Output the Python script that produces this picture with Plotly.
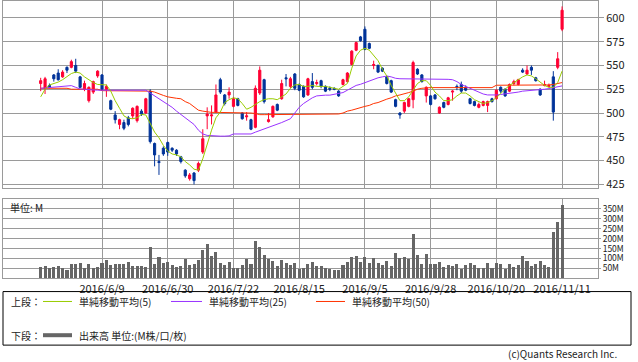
import plotly.graph_objects as go

# ---------------- data ----------------
opens = [531, 526, 529, 540, 542, 538, 548, 548, 550, 538,
         525, 513, 522, 539, 540, 525, 513, 498, 488, 490,
         495, 497, 492, 502, 500, 523, 468, 449, 463, 469,
         463, 461, 454, 440, 431, 437, 440, 459, 497, 497,
         501, 535, 519, 519, 507, 515, 500, 496, 493, 485,
         521, 535, 491, 496, 509, 515, 537, 528, 541, 530,
         528, 519, 533, 531, 534, 528, 526, 526, 523, 530,
         533, 551, 566, 580, 588, 573, 550, 550, 547, 538,
         534, 514, 500, 502, 507, 514, 546, 540, 518, 518,
         519, 500, 511, 509, 522, 528, 530, 527, 515, 512,
         506, 508, 508, 515, 515, 527, 525, 523, 531, 530,
         545, 541, 548, 537, 525, 529, 528, 538, 548, 588]
closes = [534, 536, 527, 536, 535, 543, 545, 554, 544, 527,
          531, 527, 533, 544, 525, 528, 504, 493, 493, 484,
          488, 505, 507, 499, 515, 470, 456, 448, 457, 459,
          461, 457, 449, 434, 435, 429, 447, 473, 499, 498,
          519, 522, 510, 522, 515, 508, 494, 497, 483, 526,
          545, 512, 493, 507, 503, 531, 536, 536, 526, 524,
          517, 536, 527, 532, 528, 523, 525, 525, 518, 535,
          542, 565, 574, 576, 567, 568, 551, 543, 544, 531,
          522, 507, 498, 511, 515, 553, 541, 533, 527, 509,
          515, 506, 506, 516, 523, 527, 523, 524, 510, 508,
          509, 512, 512, 512, 524, 523, 518, 530, 533, 535,
          543, 545, 545, 534, 519, 530, 529, 501, 557, 608]
highs = [537, 538, 531, 541, 546, 545, 549, 556, 557, 539,
         534, 528, 534, 545, 541, 530, 514, 502, 494, 493,
         497, 506, 508, 504, 516, 525, 469, 456, 465, 470,
         464, 462, 455, 441, 437, 438, 449, 483, 506, 508,
         530, 537, 520, 527, 517, 516, 501, 501, 494, 529,
         549, 536, 500, 508, 510, 535, 541, 538, 542, 531,
         529, 537, 542, 535, 535, 529, 528, 527, 524, 536,
         543, 566, 575, 581, 591, 574, 555, 551, 548, 539,
         535, 515, 501, 512, 516, 555, 547, 541, 528, 519,
         520, 507, 512, 517, 524, 530, 533, 529, 516, 513,
         511, 513, 513, 516, 525, 528, 526, 531, 535, 536,
         547, 550, 550, 538, 526, 534, 531, 544, 564, 612]
lows = [523, 520, 526, 533, 534, 537, 542, 547, 542, 526,
        523, 511, 520, 537, 524, 517, 503, 489, 483, 482,
        486, 494, 490, 497, 499, 468, 444, 435, 455, 455,
        459, 455, 447, 432, 429, 425, 438, 457, 483, 488,
        500, 520, 508, 515, 506, 507, 493, 492, 482, 484,
        519, 510, 490, 495, 502, 514, 528, 526, 524, 523,
        516, 518, 525, 529, 526, 522, 523, 524, 517, 529,
        532, 550, 565, 575, 566, 567, 546, 542, 543, 530,
        521, 506, 494, 500, 506, 505, 540, 532, 511, 508,
        514, 499, 505, 508, 513, 524, 521, 523, 509, 507,
        505, 507, 501, 511, 514, 521, 517, 522, 529, 529,
        542, 540, 540, 533, 518, 528, 527, 492, 546, 586]
volume = [58, 63, 53, 58, 63, 50, 43, 73, 73, 78,
          52, 73, 53, 58, 78, 93, 68, 73, 73, 73,
          83, 63, 63, 63, 58, 158, 73, 108, 78, 83,
          68, 58, 63, 98, 68, 73, 93, 143, 173, 113,
          133, 78, 68, 83, 53, 53, 68, 98, 73, 188,
          158, 118, 98, 88, 63, 93, 78, 68, 78, 48,
          53, 73, 83, 63, 63, 53, 48, 43, 43, 68,
          83, 108, 113, 83, 108, 78, 103, 78, 68, 88,
          63, 128, 103, 108, 98, 223, 118, 73, 123, 73,
          73, 83, 58, 68, 63, 73, 48, 68, 78, 68,
          53, 53, 78, 53, 78, 73, 48, 73, 58, 68,
          113, 88, 63, 73, 88, 68, 58, 233, 283, 368]
ma5 = [517, 525, 529.5, 531, 532.5, 535, 538.5, 541.5, 543, 542,
       538, 535, 532, 530, 529.5, 529.5, 523, 513, 505, 497,
       494.5, 494, 495, 498.5, 498, 489, 480, 474, 466, 460,
       457, 456, 454, 449, 445.5, 441, 440, 452, 468, 482,
       495, 501, 511, 514, 516, 515, 510, 504, 506, 509,
       512, 514, 515, 515, 514, 517, 520, 526, 529.5, 530,
       528, 528, 529, 528, 528, 528, 527, 526, 525, 528,
       531, 547, 560, 566, 568, 566, 561, 555, 546, 539,
       529, 521, 513, 513, 517, 524, 531, 534, 534, 529,
       522, 518, 513, 513, 514, 518, 521, 521, 518, 514,
       512, 510, 511, 513, 516, 521, 525, 529, 532, 535,
       538, 540, 539, 536, 532, 529, 527, 527, 532, 544]
ma25 = [526, 526.5, 527, 527, 527.4, 528, 528.5, 528.8, 527, 525.3,
        525, 524.5, 524, 524, 524, 524, 524, 524, 524, 524,
        524, 524, 524, 524, 524, 521, 518, 515, 512, 509,
        506, 502, 498.5, 495, 491, 488, 482, 478, 476.5, 476,
        475.7, 475.7, 475.7, 476, 478, 478, 478, 478, 478, 479.9,
        481.5, 483, 485, 486.8, 488.5, 490, 492, 494, 500, 506,
        510, 513, 516, 518, 518.8, 518.8, 518.8, 519.5, 520.5, 521.5,
        524, 526.7, 529, 530.2, 532, 533.7, 535.5, 537, 538, 538.9,
        538, 536.5, 536, 536, 536, 536, 536, 536, 535.5, 535.4,
        535.4, 535.4, 535.4, 535.4, 535, 533, 530, 528, 526, 523.5,
        522, 520, 519, 518.8, 519, 519.5, 520, 520.5, 521, 522,
        523, 523.3, 523.8, 524, 524.3, 525, 525.7, 526.5, 527.5, 528.5]
ma50 = [526, 526, 526, 526, 526, 526, 526, 525, 525, 525,
        525, 525, 525, 525, 523.5, 523.5, 523.5, 523.5, 523.5, 523.5,
        523.5, 523.5, 523.5, 523.5, 523.5, 523, 522, 520, 518.5, 517,
        516, 515.5, 515, 512, 510, 506, 503, 502, 501, 500.7,
        500.7, 500.7, 500.7, 500.7, 500.7, 500.7, 500.7, 500.7, 500, 499.5,
        498.3, 498.3, 498.3, 498.3, 498.3, 498.3, 498.3, 498.3, 498.3, 498.3,
        498.3, 498.3, 498.3, 498.3, 498.3, 498.3, 498.3, 498.5, 499, 500,
        502, 503, 504.5, 505.5, 507, 508, 510, 511, 513, 514.6,
        516, 518, 519, 520, 521.5, 523, 525, 526, 526.7, 526.7,
        526.7, 526.7, 526.7, 526.7, 526.7, 526.7, 526.7, 526.7, 526.7, 526.7,
        526.7, 526.7, 526.7, 526.7, 529.2, 529.2, 529.2, 529.2, 529.2, 529.2,
        529.2, 529.2, 529.2, 529.2, 529.2, 529.2, 529.5, 530, 531, 532]

tick_pos = [14, 29, 44, 59, 74, 89, 104, 119]
tick_labels = ["2016/6/9", "2016/6/30", "2016/7/22", "2016/8/15",
               "2016/9/5", "2016/9/28", "2016/10/20", "2016/11/11"]
price_ticks = [425, 450, 475, 500, 525, 550, 575, 600]
vol_ticks = [50, 100, 150, 200, 250, 300, 350]
vol_tick_labels = ["50M", "100M", "150M", "200M", "250M", "300M", "350M"]

# ---------------- style ----------------
W, H = 638, 362
UP = "#ff0033"
DN = "#003399"
C_MA5 = "#99cc00"
C_MA25 = "#9933ff"
C_MA50 = "#ff3300"
GRID = "#9a9a9a"
TXT = "#222222"
FONT = "Noto Sans CJK JP"

def px(x):
    return x / W

def py(y):
    return 1 - y / H

x = list(range(len(opens)))
xr = [-8.6, 127.2]

fig = go.Figure()
fig.add_trace(go.Candlestick(
    x=x, open=opens, high=highs, low=lows, close=closes,
    increasing=dict(line=dict(color=UP, width=1), fillcolor=UP),
    decreasing=dict(line=dict(color=DN, width=1), fillcolor=DN),
    whiskerwidth=0, xaxis="x", yaxis="y", showlegend=False, hoverinfo="skip"))
for vals, col in [(ma50, C_MA50), (ma25, C_MA25), (ma5, C_MA5)]:
    fig.add_trace(go.Scatter(x=x, y=vals, mode="lines", line=dict(color=col, width=1),
                             xaxis="x", yaxis="y", showlegend=False, hoverinfo="skip"))
fig.add_trace(go.Bar(x=x, y=volume, marker=dict(color="#666666", line=dict(width=0)),
                     width=0.7, xaxis="x2", yaxis="y2", showlegend=False, hoverinfo="skip"))

axis_common = dict(showgrid=True, gridcolor=GRID, gridwidth=1, showline=True, mirror=True,
                   linecolor=GRID, linewidth=1, zeroline=False)

fig.update_layout(
    width=W, height=H, margin=dict(l=0, r=0, t=0, b=0),
    paper_bgcolor="white", plot_bgcolor="white",
    font=dict(family=FONT, size=11, color=TXT),
    bargap=0,
    xaxis=dict(domain=[px(3), px(598)], range=xr, tickvals=tick_pos, showticklabels=False,
               anchor="y", rangeslider=dict(visible=False), ticks="", **axis_common),
    yaxis=dict(domain=[py(190), py(1)], range=[420.8, 617.7], side="right",
               tickvals=price_ticks, ticks="outside", ticklen=5, tickcolor=GRID,
               tickfont=dict(size=11, color=TXT), anchor="x", **axis_common),
    xaxis2=dict(domain=[px(3), px(598)], range=xr, tickvals=tick_pos, ticktext=tick_labels,
                tickfont=dict(size=11, color=TXT), anchor="y2", ticks="", **axis_common),
    yaxis2=dict(domain=[py(280.7), py(201)], range=[0, 398], side="right",
                tickvals=vol_ticks, ticktext=vol_tick_labels, ticks="outside", ticklen=2,
                tickcolor=GRID, tickfont=dict(size=8.5, color=TXT), anchor="x2", **axis_common),
)

shapes = []
annotations = []
# legend box
shapes.append(dict(type="rect", xref="paper", yref="paper", x0=px(3), x1=px(631),
                   y0=py(348), y1=py(294), line=dict(color="#000000", width=1),
                   fillcolor="rgba(0,0,0,0)"))

def leg_line(x0, x1, y, col, w):
    shapes.append(dict(type="line", xref="paper", yref="paper", x0=px(x0), x1=px(x1),
                       y0=py(y), y1=py(y), line=dict(color=col, width=w)))

def text(s, x, y, anchor="left", size=10):
    annotations.append(dict(text=s, xref="paper", yref="paper", x=px(x), y=py(y),
                            xanchor=anchor, yanchor="middle", showarrow=False,
                            font=dict(size=size, color=TXT, family=FONT)))

text("上段：", 9, 304)
leg_line(43, 72, 304, C_MA5, 1)
text("単純移動平均(5)", 77, 304)
leg_line(171, 202, 304, C_MA25, 1)
text("単純移動平均(25)", 207, 304)
leg_line(316, 345, 304, C_MA50, 1)
text("単純移動平均(50)", 350, 304)
text("下段：", 9, 338)
leg_line(43, 72, 338, "#666666", 4)
text("出来高 単位:(M株/口/枚)", 77, 338)
text("単位: M", 8, 209)
text("(c)Quants Research Inc.", 619, 356, anchor="right")

fig.update_layout(shapes=shapes, annotations=annotations)
fig.write_html("out.html", config={"displayModeBar": False},
               post_script="document.body.style.margin='0';document.body.style.padding='0';")
